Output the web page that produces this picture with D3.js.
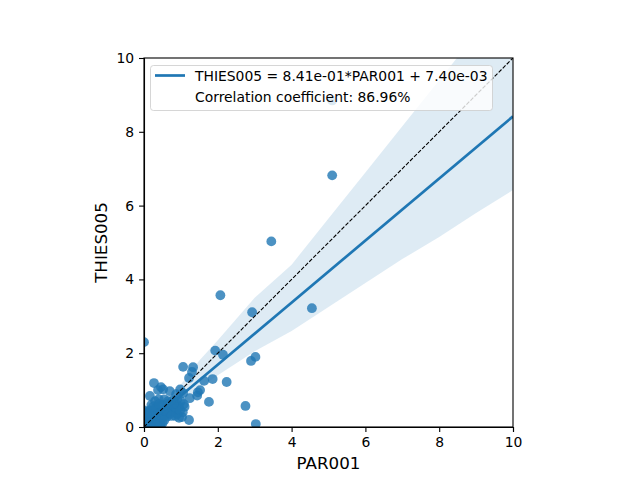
<!DOCTYPE html>
<html>
<head>
<meta charset="utf-8">
<script src="https://cdn.jsdelivr.net/npm/d3@7"></script>
<style>
  body { margin: 0; background: #fff; }
  text { font-family: "DejaVu Sans", sans-serif; }
</style>
</head>
<body>
<script>
// scatter values (PAR001 vs THIES005)
var parValues = [5.1, 5.1, 3.45, 2.07, 2.93, 4.55, 0, 1.93, 2.14, 1.06, 1.33, 1.30, 1.22, 1.63, 1.86, 2.24, 2.90, 3.02, 2.75, 3.03,
  1.76, 1.22, 1.52, 1.44, 1.46, 1.24, 1.03, 0.98, 1.06, 0.27, 0.46, 0.38, 0.52, 0.16, 0.70, 0.87,
  0.05, 0.1, 0.2, 0.3, 0.45, 0.0, 0.0, 0.0, 0.0, 0.05, 0.1, 0.12, 0.15, 0.2, 0.25, 0.3, 0.35, 0.4, 0.45, 0.5,
  0.55, 0.6, 0.65, 0.7, 0.75, 0.8, 0.85, 0.9, 0.95, 1.0, 1.05, 0.3, 0.4, 0.2, 0.55, 0.62, 0.5, 0.35, 0.15,
  0.05, 0.25, 0.85, 0.95, 1.1, 0.78, 0.62, 0.18, 0.42, 0.08, 0.28, 0.9,
  0.15, 0.22, 0.32, 0.38, 0.48, 0.58, 0.68, 0.72, 0.82, 0.88, 0.45, 0.35, 0.12, 0.08, 0.25, 0.52,
  0.62, 0.75, 0.98, 1.08, 0.4, 0.18, 0.55, 0.8];
var thiesValues = [8.85, 6.82, 5.03, 3.57, 3.11, 3.22, 2.3, 2.07, 1.96, 1.63, 1.62, 1.49, 1.33, 1.25, 1.30, 1.22, 1.79, 1.90, 0.57, 0.08,
  0.68, 0.19, 1.00, 0.85, 0.94, 0.78, 0.27, 1.02, 0.92, 1.19, 1.08, 1.00, 1.02, 0.84, 0.97, 0.89,
  0.05, 0.0, 0.0, 0.0, 0.0, 0.1, 0.2, 0.3, 0.45, 0.35, 0.15, 0.3, 0.45, 0.2, 0.1, 0.3, 0.5, 0.2, 0.4, 0.6,
  0.3, 0.5, 0.7, 0.35, 0.55, 0.45, 0.65, 0.35, 0.55, 0.7, 0.4, 0.7, 0.75, 0.6, 0.75, 0.28, 0.1, 0.15, 0.05,
  0.2, 0.35, 0.3, 0.25, 0.55, 0.72, 0.62, 0.38, 0.55, 0.02, 0.48, 0.75,
  0.15, 0.28, 0.18, 0.38, 0.25, 0.45, 0.52, 0.42, 0.55, 0.48, 0.08, 0.05, 0.22, 0.4, 0.55, 0.45,
  0.38, 0.3, 0.45, 0.62, 0.62, 0.12, 0.18, 0.62];

// fit and its confidence band
var slope = 0.841;
var intercept = 0.0074;
var bandX = [0, 0.5, 1, 1.5, 2, 3, 4, 5, 6, 7, 8, 9, 10];
var bandHigh = [0.15, 0.6, 1.15, 1.8, 2.35, 3.5, 4.4, 5.65, 6.9, 8.15, 9.4, 10.65, 11.9];
var bandLow = [-0.1, 0.35, 0.72, 1.05, 1.4, 2.05, 2.6, 3.25, 3.9, 4.55, 5.15, 5.8, 6.42];

var ticks = [0, 2, 4, 6, 8, 10];
var legendLines = ['THIES005 = 8.41e-01*PAR001 + 7.40e-03', 'Correlation coefficient: 86.96%'];

var width = 640, height = 480;
var blue = '#1f77b4';

var svg = d3.select('body').append('svg')
  .attr('width', width)
  .attr('height', height);

// square axes box
var x = d3.scaleLinear().domain([0, 10]).range([144, 513]);
var y = d3.scaleLinear().domain([0, 10]).range([427, 58]);

svg.append('clipPath').attr('id', 'plotclip')
  .append('rect')
  .attr('x', 144).attr('y', 58)
  .attr('width', 369).attr('height', 369);

var plot = svg.append('g').attr('clip-path', 'url(#plotclip)');

// confidence band
var band = bandX.map(function(d, i) { return {x: d, lo: bandLow[i], hi: bandHigh[i]}; });
plot.append('path')
  .datum(band)
  .attr('fill', blue)
  .attr('fill-opacity', 0.15)
  .attr('d', d3.area()
    .x(function(d) { return x(d.x); })
    .y0(function(d) { return y(d.lo); })
    .y1(function(d) { return y(d.hi); }));

// points
plot.selectAll('circle')
  .data(parValues.map(function(d, i) { return [d, thiesValues[i]]; }))
  .enter()
  .append('circle')
  .attr('cx', function(d) { return x(d[0]); })
  .attr('cy', function(d) { return y(d[1]); })
  .attr('r', 4.9)
  .attr('fill', blue)
  .attr('fill-opacity', 0.8);

// regression line
plot.append('line')
  .attr('x1', x(0)).attr('y1', y(intercept))
  .attr('x2', x(10)).attr('y2', y(slope * 10 + intercept))
  .attr('stroke', blue)
  .attr('stroke-width', 2.7);

// 1:1 line
plot.append('line')
  .attr('x1', x(0)).attr('y1', y(0))
  .attr('x2', x(10)).attr('y2', y(10))
  .attr('stroke', '#000')
  .attr('stroke-width', 1.1)
  .attr('stroke-dasharray', '4,1.7');

// axes
svg.append('g')
  .attr('transform', 'translate(0,427)')
  .call(d3.axisBottom(x).tickValues(ticks).tickSize(4.9).tickPadding(4.9))
  .call(styleAxis);

svg.append('g')
  .attr('transform', 'translate(144,0)')
  .call(d3.axisLeft(y).tickValues(ticks).tickSize(4.9).tickPadding(4.9))
  .call(styleAxis);

// top and right spines
svg.append('rect')
  .attr('x', 144).attr('y', 58)
  .attr('width', 369).attr('height', 369)
  .attr('fill', 'none')
  .attr('stroke', '#000')
  .attr('stroke-width', 1.1);

function styleAxis(g) {
  g.select('.domain').attr('stroke', '#000').attr('stroke-width', 1.1);
  g.selectAll('.tick line').attr('stroke', '#000').attr('stroke-width', 1.1);
  g.selectAll('.tick text')
    .attr('fill', '#000')
    .style('font-size', '13.9px')
    .style('font-family', '"DejaVu Sans", sans-serif');
}

// axis labels
svg.append('text')
  .attr('x', 328.5).attr('y', 469)
  .attr('text-anchor', 'middle')
  .style('font-size', '16.7px')
  .text('PAR001');

svg.append('text')
  .attr('transform', 'translate(107,242.5) rotate(-90)')
  .attr('text-anchor', 'middle')
  .style('font-size', '16.7px')
  .text('THIES005');

// legend
var legend = svg.append('g');
legend.append('rect')
  .attr('x', 150.5).attr('y', 65.5)
  .attr('width', 342).attr('height', 45)
  .attr('rx', 3)
  .attr('fill', '#fff')
  .attr('fill-opacity', 0.8)
  .attr('stroke', '#ccc')
  .attr('stroke-opacity', 0.8);

legend.append('line')
  .attr('x1', 155).attr('x2', 185)
  .attr('y1', 75.5).attr('y2', 75.5)
  .attr('stroke', blue)
  .attr('stroke-width', 2.7);

legend.selectAll('text.entry')
  .data(legendLines)
  .enter()
  .append('text')
  .attr('class', 'entry')
  .attr('x', 195)
  .attr('y', function(d, i) { return 80.5 + i * 21; })
  .style('font-size', '13.9px')
  .text(function(d) { return d; });
</script>
</body>
</html>
